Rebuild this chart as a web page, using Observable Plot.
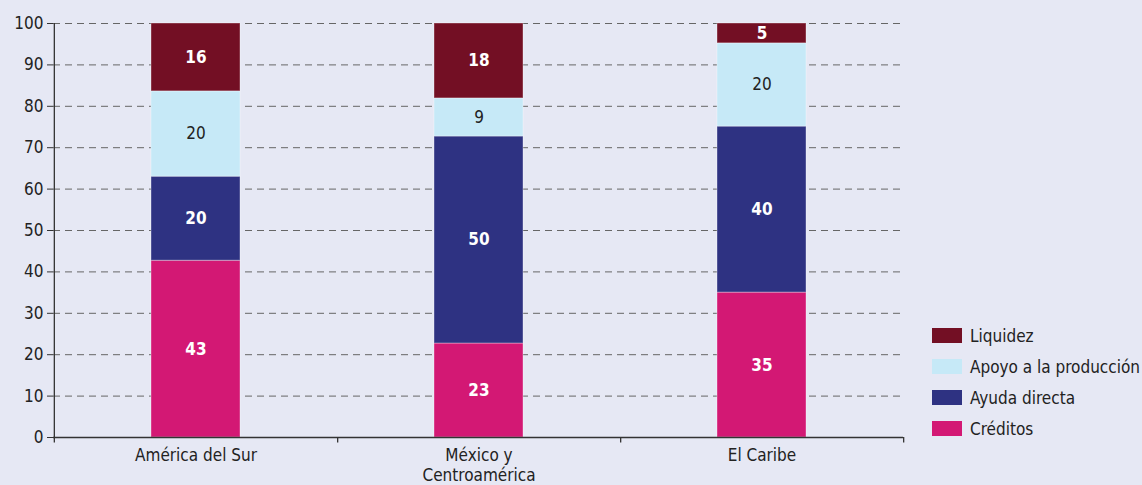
<!DOCTYPE html>
<html><head><meta charset="utf-8">
<script src="https://cdn.jsdelivr.net/npm/d3@7"></script>
<script src="https://cdn.jsdelivr.net/npm/@observablehq/plot@0.6"></script>
<style>
html,body{margin:0;padding:0;background:#e6e8f4;}
#wrap{position:relative;width:1142px;height:485px;font-family:"DejaVu Sans Condensed","Liberation Sans Narrow",sans-serif;}
#legend{position:absolute;left:932px;top:320px;font-size:17px;color:#222;white-space:nowrap;}
.row{display:flex;align-items:center;height:31px;}
.sw{width:30px;height:15px;margin-right:8px;flex:none;}
</style></head>
<body><div id="wrap"><div id="chart"></div><div id="legend"></div></div>
<script>
const regions = ["América del Sur", "México y\nCentroamérica", "El Caribe"];
const series = ["Créditos", "Ayuda directa", "Apoyo a la producción", "Liquidez"];
const colors = ["#d31874", "#2e3282", "#c6e9f7", "#730f24"];
const creditos = [42.7, 22.7, 35.0];
const ayuda = [20.3, 50.0, 40.1];
const apoyo = [20.6, 9.2, 20.1];
const liquidez = [16.4, 18.1, 4.8];
const labelCreditos = [43, 23, 35];
const labelAyuda = [20, 50, 40];
const labelApoyo = [20, 9, 20];
const labelLiquidez = [16, 18, 5];
const yTicks = [0,10,20,30,40,50,60,70,80,90,100];

const vals = [creditos, ayuda, apoyo, liquidez];
const labs = [labelCreditos, labelAyuda, labelApoyo, labelLiquidez];
const data = [];
series.forEach((s, si) => regions.forEach((r, ri) => data.push({region: r, serie: s, value: vals[si][ri], label: labs[si][ri]})));

const W = 1142, ml = 53, mr = 239;
const step = (W - ml - mr) / regions.length;
const font = '"DejaVu Sans Condensed","Liberation Sans Narrow",sans-serif';

const chart = Plot.plot({
  width: W, height: 485,
  marginLeft: ml, marginRight: mr, marginTop: 23, marginBottom: 48,
  style: {background: "transparent", fontFamily: font, fontSize: "17px", color: "#222"},
  x: {domain: regions, paddingInner: 0.686, paddingOuter: 0.343, label: null},
  y: {domain: [0, 100], label: null},
  color: {domain: series, range: colors},
  marks: [
    Plot.gridY(yTicks, {stroke: "#666", strokeOpacity: 1, strokeDasharray: "7,5", strokeWidth: 1}),
    Plot.barY(data, {x: "region", y: "value", fill: "serie", stroke: "#ffffff", strokeOpacity: 0.35, strokeWidth: 1}),
    Plot.text(data, Plot.stackY({x: "region", y: "value", z: "serie", text: d => d.serie === "Apoyo a la producción" ? String(d.label) : "", fill: "#222", fontSize: 17})),
    Plot.text(data, Plot.stackY({x: "region", y: "value", z: "serie", text: d => d.serie === "Apoyo a la producción" ? "" : String(d.label), fill: "#fff", fontWeight: "bold", fontSize: 17})),
    Plot.ruleY([0], {stroke: "#333", strokeWidth: 1.3}),
    Plot.ruleX([regions[0]], {dx: -step / 2, y1: -1.3, y2: 100, stroke: "#333", strokeWidth: 1.3}),
    Plot.ruleX(regions, {dx: step / 2, y1: -1.3, y2: 0, stroke: "#333", strokeWidth: 1.3}),
    Plot.axisY(yTicks, {tickSize: 6, tickPadding: 4, fontSize: 17, stroke: "#333", fill: "#222", label: null}),
    Plot.axisX({tickSize: 0, tickPadding: 10, fontSize: 17, fill: "#222", label: null, lineHeight: 1.15})
  ]
});
document.getElementById("chart").appendChild(chart);

const legend = document.getElementById("legend");
[3, 2, 1, 0].forEach(i => {
  const row = document.createElement("div"); row.className = "row";
  const sw = document.createElement("div"); sw.className = "sw"; sw.style.background = colors[i];
  const t = document.createElement("span"); t.textContent = series[i];
  row.appendChild(sw); row.appendChild(t); legend.appendChild(row);
});
</script></body></html>
